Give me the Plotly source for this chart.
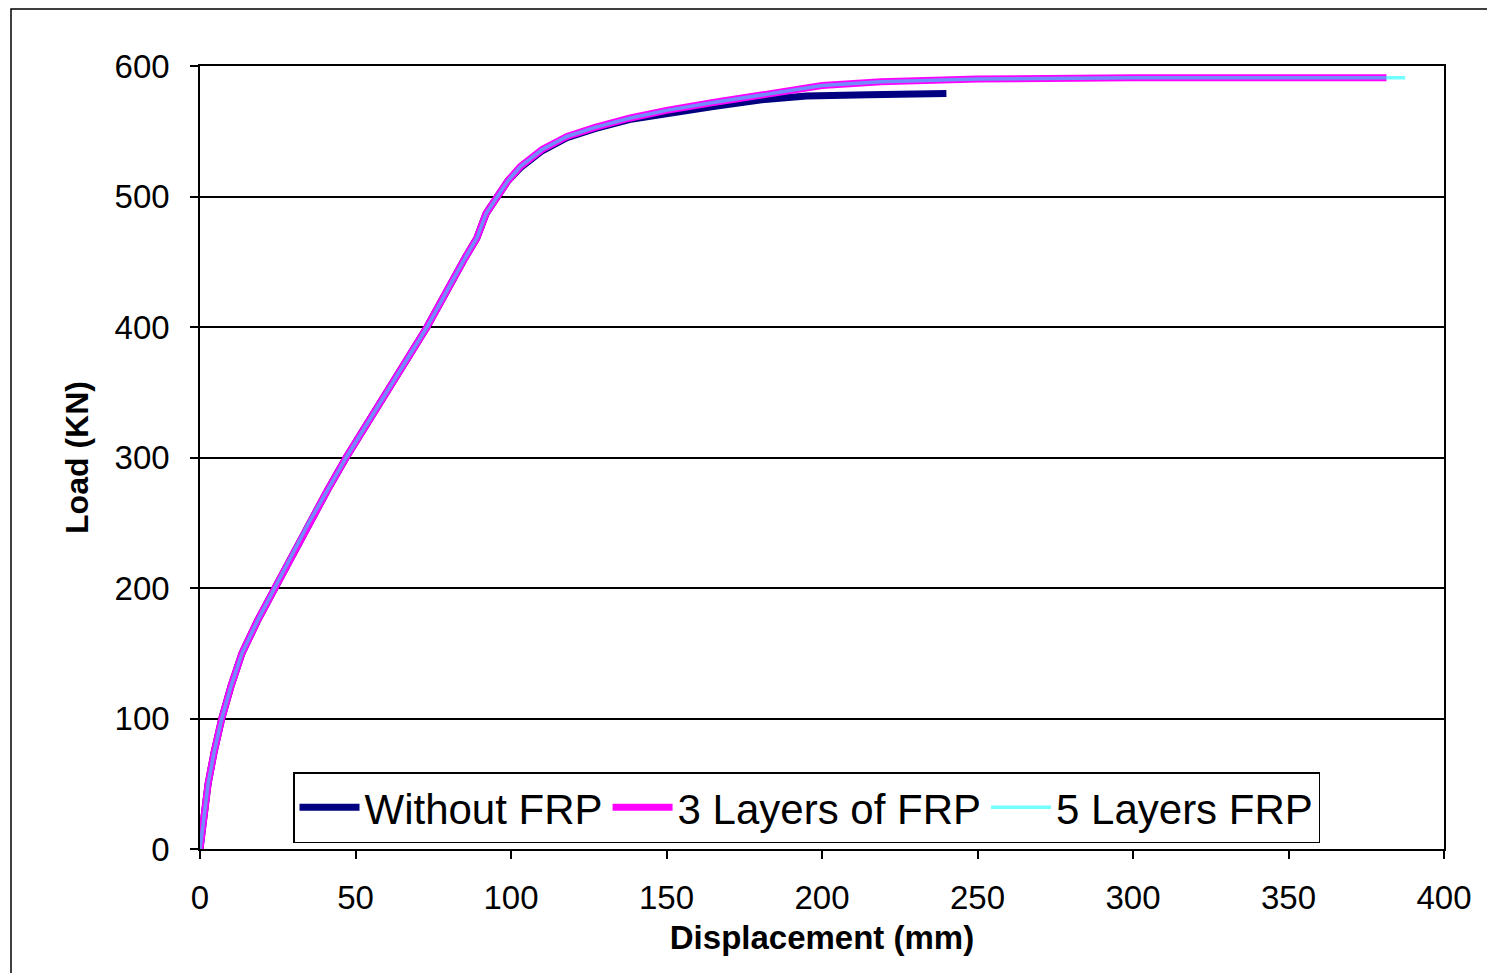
import plotly.graph_objects as go

# Displacement (mm) and Load (KN)
without_x = [0, 1.3, 2.6, 4.6, 7, 10, 13.5, 18.5, 24, 29.5, 35, 41, 47, 60, 73, 85, 89, 92, 95.5, 99, 103, 110, 118, 127, 138, 150, 165, 180, 195, 215, 240]
without_y = [0, 25, 50, 75, 100, 125, 150, 175, 200, 225, 250, 275, 300, 350, 400, 452, 468, 487, 500, 512, 522, 535, 545, 552, 559, 564, 569, 574, 577, 578, 579]

frp3_x = [0, 1.3, 2.6, 4.6, 7, 10, 13.5, 18.5, 24, 29.5, 35, 41, 47, 60, 73, 85, 89, 92, 95.5, 99, 103, 110, 118, 127, 138, 150, 165, 186, 200, 219, 250, 300, 350, 381.5]
frp3_y = [0, 25, 50, 75, 100, 125, 150, 175, 200, 225, 250, 275, 300, 350, 400, 452, 468, 487, 500, 512, 523, 536, 546, 553, 560, 566, 572, 580, 585, 588, 590, 591, 591, 591]

frp5_x = [0, 1.3, 2.6, 4.6, 7, 10, 13.5, 18.5, 24, 29.5, 35, 41, 47, 60, 73, 85, 89, 92, 95.5, 99, 103, 110, 118, 127, 138, 150, 165, 186, 200, 219, 250, 300, 350, 387.5]
frp5_y = [0, 25, 50, 75, 100, 125, 150, 175, 200, 225, 250, 275, 300, 350, 400, 452, 468, 487, 500, 512, 523, 536, 546, 553, 560, 566, 572, 580, 585, 588, 590, 591, 591, 591]

series_names = ["Without FRP", "3 Layers of FRP", "5 Layers FRP"]
x_ticks = [0, 50, 100, 150, 200, 250, 300, 350, 400]
y_ticks = [0, 100, 200, 300, 400, 500, 600]

FONT = "Liberation Sans, Arial, sans-serif"

fig = go.Figure()
fig.add_trace(go.Scatter(x=without_x, y=without_y, mode="lines", name=series_names[0],
                         line=dict(color="#000080", width=7)))
fig.add_trace(go.Scatter(x=frp3_x, y=frp3_y, mode="lines", name=series_names[1],
                         line=dict(color="#FF00FF", width=7)))
fig.add_trace(go.Scatter(x=frp5_x, y=frp5_y, mode="lines", name=series_names[2], opacity=0.55,
                         line=dict(color="#00FFFF", width=3.5)))

# page has an 8px body margin, so the figure is shifted by 8px
OFF = 8
W, H = 1495 - OFF, 973 - OFF
L, R, T, B = 200 - OFF, 1444 - OFF, 66 - OFF, 849 - OFF
pw, ph = R - L, B - T

fig.update_layout(
    width=W, height=H,
    margin=dict(l=L, r=W - R, t=T, b=H - B, autoexpand=False),
    paper_bgcolor="white", plot_bgcolor="white",
    font=dict(family=FONT, color="black"),
    showlegend=True,
    legend=dict(
        orientation="h", x=(293 - OFF - L) / pw, y=(B - (772 - OFF)) / ph, xanchor="left", yanchor="top",
        bgcolor="white", bordercolor="black", borderwidth=1.5,
        font=dict(family=FONT, size=42, color="black"),
        itemwidth=60, tracegroupgap=0,
    ),
    xaxis=dict(
        range=[0, 400], tickvals=x_ticks, showgrid=False, zeroline=False,
        showline=True, mirror=True, linecolor="black", linewidth=1.5,
        ticks="outside", ticklen=8, tickcolor="black", tickwidth=1.5,
        tickfont=dict(family=FONT, size=33, color="black"), ticklabelstandoff=11,
        title=dict(text="<b>Displacement (mm)</b>", font=dict(family=FONT, size=33, color="black"), standoff=11),
    ),
    yaxis=dict(
        range=[0, 600], tickvals=y_ticks, showgrid=True, gridcolor="black", gridwidth=1.5,
        zeroline=False, showline=True, mirror=True, linecolor="black", linewidth=1.5,
        ticks="outside", ticklen=8, tickcolor="black", tickwidth=1.5,
        tickfont=dict(family=FONT, size=33, color="black"), ticklabelstandoff=14,
        title=dict(text="<b>Load (KN)</b>", font=dict(family=FONT, size=32, color="black"), standoff=16),
    ),
    shapes=[dict(
        type="rect", xref="paper", yref="paper",
        x0=(11 - OFF - L) / pw, x1=(W + 10 - L) / pw,
        y0=(B - (H + 10)) / ph, y1=1 + (T - 1) / ph,
        line=dict(color="black", width=1.5), fillcolor="rgba(0,0,0,0)", layer="below",
    )],
)

fig.write_html("out.html")
